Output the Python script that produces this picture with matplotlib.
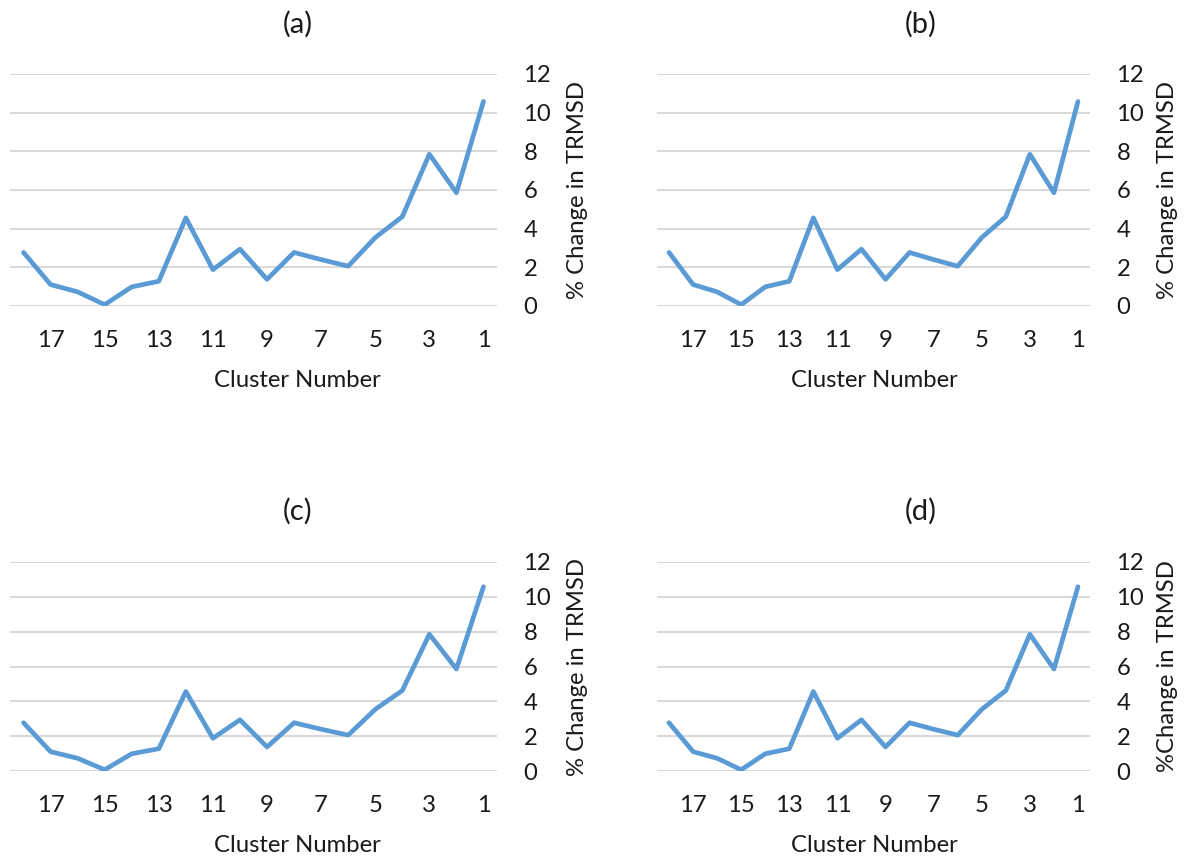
import numpy as np
import matplotlib.pyplot as plt

plt.rcParams['font.family'] = ['Lato', 'DejaVu Sans']

clusters = np.arange(18, 0, -1)
trmsd_change = [2.77, 1.11, 0.73, 0.07, 0.99, 1.28, 4.56, 1.88, 2.94,
                1.38, 2.77, 2.40, 2.06, 3.54, 4.62, 7.85, 5.86, 10.58]
panel_titles = ["(a)", "(b)", "(c)", "(d)"]
ylabels = ["% Change in TRMSD", "% Change in TRMSD",
           "% Change in TRMSD", "%Change in TRMSD"]
xticks = list(range(17, 0, -2))
yticks = list(range(0, 13, 2))

LINE_COLOR = "#5B9BD5"
GRID_COLOR = "#D9D9D9"
TEXT_COLOR = "#1a1a1a"
FS = 17.2
FS_TITLE = 21

W, H = 1190, 861
fig = plt.figure(figsize=(W / 100, H / 100), dpi=100)

# pixel layout: (grid left, grid right, y of 12, y of 0, title x, title y, xlabel x, xlabel y, ylabel x)
layout = [
    (10, 497, 74, 306, 298, 24, 297, 381, 578),
    (657, 1090, 74, 306, 921, 24, 874, 381, 1168),
    (10, 497, 562, 771, 298, 511, 297, 846, 578),
    (657, 1090, 562, 771, 921, 511, 874, 846, 1168),
]

for i, (l, r, t, b, tx, ty, xx, xy, yx) in enumerate(layout):
    ax = fig.add_axes([l / W, 1 - b / H, (r - l) / W, (b - t) / H])
    ax.plot(clusters, trmsd_change, color=LINE_COLOR, lw=3.4,
            solid_capstyle='round', solid_joinstyle='round', zorder=3)
    ax.set_xlim(18.5, 0.5)
    ax.set_ylim(0, 12)
    ax.set_xticks(xticks)
    ax.set_xticklabels([str(v) for v in xticks])
    ax.set_yticks(yticks)
    ax.yaxis.tick_right()
    ax.tick_params(axis='both', length=0, labelsize=FS, colors=TEXT_COLOR)
    ax.tick_params(axis='x', pad=17)
    ax.tick_params(axis='y', pad=19)
    ax.grid(axis='y', color=GRID_COLOR, lw=1.5, zorder=0)
    ax.set_axisbelow(True)
    for s in ax.spines.values():
        s.set_visible(False)
    ax.patch.set_alpha(0)

    fig.text(tx / W, 1 - ty / H, panel_titles[i], ha='center', va='center',
             fontsize=FS_TITLE, color=TEXT_COLOR)
    fig.text(xx / W, 1 - xy / H, "Cluster Number", ha='center', va='center',
             fontsize=FS, color=TEXT_COLOR)
    fig.text(yx / W, 1 - (t + b) / 2 / H, ylabels[i], ha='center', va='center',
             rotation=90, fontsize=FS, color=TEXT_COLOR)

fig.savefig("out.png", dpi=100, facecolor='white')
